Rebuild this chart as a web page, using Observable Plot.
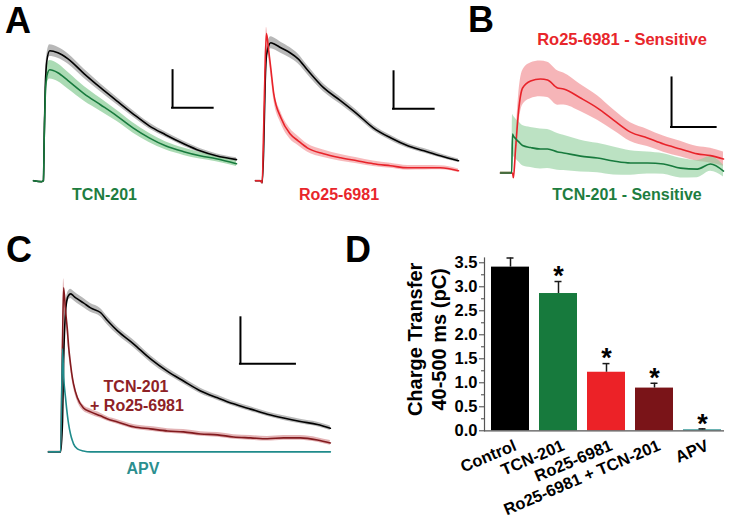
<!DOCTYPE html>
<html><head><meta charset="utf-8">
<script src="https://cdn.jsdelivr.net/npm/d3@7"></script>
<script src="https://cdn.jsdelivr.net/npm/@observablehq/plot@0.6"></script>
<style>
body{margin:0;background:#fff;}
#fig{position:relative;width:734px;height:523px;overflow:hidden;background:#fff;font-family:"Liberation Sans",Arial,sans-serif;}
.panel{position:absolute;}
.panel svg{overflow:visible;}
.lbl{position:absolute;font-weight:bold;white-space:nowrap;line-height:1;}
</style></head>
<body><div id="fig"></div>
<script>
// ---------- Panel A (left): Control vs TCN-201 (time in ms, mean current in pA, SEM) ----------
const tA1 = [0, 40, 49, 53, 58, 66, 80, 120, 170, 250, 330, 410, 490, 570, 650, 740, 820, 900, 1000];
const controlA1 = [0, -0.5, 0, 25, 50, 65, 70.3, 69.2, 65.9, 57.8, 50.3, 43.2, 36.2, 29.7, 24.9, 20, 16.2, 13.5, 11.4];
const controlA1Sem = [0.3, 0.3, 0.3, 2, 3, 3.2, 3.2, 3, 2.8, 2.5, 2.2, 2, 1.8, 1.6, 1.4, 1.3, 1.2, 1.1, 1];
const tcnA1 = [0, -0.5, 0, 24.3, 45.9, 56.8, 60, 58.4, 54.1, 47, 41.1, 35.1, 28.6, 23.2, 18.9, 15.7, 13.5, 11.9, 9.2];
const tcnA1Sem = [0.3, 0.3, 0.3, 3, 4.5, 5, 5, 4.8, 4.5, 4, 3.5, 3, 2.8, 2.5, 2.2, 2, 1.8, 1.6, 1.5];

// ---------- Panel A (right): Control vs Ro25-6981 ----------
const tA2 = [0, 25, 33, 40, 48, 54, 65, 75, 90, 125, 170, 210, 255, 335, 420, 500, 580, 665, 750, 830, 910, 1000];
const controlA2 = [0, 0, -1.1, 16.2, 54.1, 67.6, 73, 74.6, 74.1, 71.9, 69.2, 65.9, 60, 50.3, 43.2, 36.2, 28.6, 23.2, 18.9, 16.2, 13.5, 10.8];
const controlA2Sem = [0.3, 0.3, 0.3, 2, 3, 3.2, 3.2, 3.2, 3.2, 3, 2.8, 2.6, 2.4, 2.2, 2, 1.8, 1.6, 1.4, 1.3, 1.2, 1.1, 1];
const roA2 = [0, 0, -1.1, 27, 64.9, 79.5, 70.3, 61.1, 47, 34.1, 25.4, 21.6, 17.8, 14.6, 12.4, 10.8, 9.2, 8.1, 7, 7, 7, 5.4];
const roA2Sem = [0.3, 0.3, 0.3, 2, 3, 3.5, 3.5, 3.3, 3.2, 3, 2.8, 2.5, 2.2, 2, 1.8, 1.6, 1.5, 1.4, 1.3, 1.2, 1.1, 1];

// ---------- Panel B: sensitive components ----------
const tB = [0, 50, 54, 58, 67, 81, 99, 135, 179, 211, 256, 283, 359, 435, 507, 583, 659, 731, 807, 883, 942, 1000];
const roSensB = [0.4, 0.4, 0.4, -1.5, 9.4, 25.7, 35.1, 38, 38.8, 38.4, 35.1, 34.7, 31, 26.9, 22, 17.1, 14.7, 12.2, 10.2, 8.2, 7.5, 6.1];
const roSensBSem = [0.5, 0.5, 0.5, 0.5, 3, 6, 7, 7.3, 7.3, 7.2, 7, 6.5, 5.5, 5, 4.2, 3.8, 3.5, 3.3, 3.2, 3, 3, 2.9];
const tcnSensB = [0.4, 0.4, 16.3, 15.5, 14.5, 13.2, 11.6, 10.8, 10.2, 10.2, 9, 8.6, 7.3, 6.5, 5.3, 4.5, 4.5, 4.1, 2.4, 2, 4.1, 1.2];
const tcnSensBSem = [0.5, 0.5, 8, 8.2, 8.2, 8.2, 8.2, 8.2, 8.2, 8, 7.5, 7.2, 6.5, 6, 5.7, 5, 4.5, 4.2, 4, 3.5, 3, 2.4];

// ---------- Panel C: Control, TCN-201 + Ro25-6981, APV ----------
const tC = [0, 40, 44, 51, 55, 62, 69, 73, 80, 87, 91, 105, 127, 153, 189, 215, 251, 309, 371, 433, 491, 553, 615, 673, 735, 796, 855, 916, 978, 1025];
const controlC = [0, 0, 0, 13.5, 39.6, 61, 67, 68, 68.7, 68.3, 67.8, 66.5, 64.8, 62.6, 60.6, 57, 52.6, 47, 40.4, 35, 30.8, 26.5, 23.5, 20.9, 18.6, 16.4, 14.7, 13.2, 11.9, 10.3];
const controlCSem = [0.3, 0.3, 0.3, 1.5, 2, 2, 2, 2, 2, 2, 2, 2, 2, 1.9, 1.8, 1.8, 1.7, 1.6, 1.5, 1.4, 1.3, 1.2, 1.1, 1, 1, 1, 1, 1, 1, 1];
const comboC = [0, 0, 0, 48.3, 71.3, 61.3, 52.6, 46.1, 38.3, 32.2, 29.6, 23.5, 19.1, 17.4, 15.7, 14.3, 13, 10.9, 10, 9.1, 8.7, 7.8, 7.4, 6.5, 6.1, 5.7, 6.1, 6.1, 5.2, 3.9];
const comboCSem = [0.3, 0.3, 0.3, 3, 4, 3, 2.5, 2.2, 2, 1.8, 1.7, 1.5, 1.3, 1.2, 1.1, 1, 1, 1, 1, 1, 1, 1, 1, 1, 1, 1, 1, 1, 1, 1];
const apvC = [0, 0, 0, 44.8, 33, 23.5, 15.7, 12.2, 7.8, 4.8, 3.5, 1.3, 0.4, 0, 0, 0, 0, 0, 0, 0, 0, 0, 0, 0, 0, 0, 0, 0, 0, 0];

// scale bars (200 ms, 20 pA) and their anchors in data units
const scaleBarMs = 200, scaleBarPA = 20;
const barA1 = {t: 685, pA: 39.5};
const barA2 = {t: 680, pA: 38.9};
const barB = {t: 767, pA: 19.2};
const barC = {t: 698, pA: 38.3};

// ---------- Panel D: charge transfer 40-500 ms ----------
const categoriesD = ["Control", "TCN-201", "Ro25-6981", "Ro25-6981 + TCN-201", "APV"];
const chargeD = [3.41, 2.86, 1.22, 0.89, 0.02];
const chargeErrD = [0.19, 0.25, 0.18, 0.10, 0.02];
const significantD = [false, true, true, true, true];
const yTicksD = [0, 0.5, 1.0, 1.5, 2.0, 2.5, 3.0, 3.5];
const yMinorTicksD = [0.25, 0.75, 1.25, 1.75, 2.25, 2.75, 3.25];

// colours
const C = {
  black: "#000000", gray: "#9a9a9a",
  green: "#177a3d", greenBand: "#8fcf9b",
  red: "#e8232a", redBand: "#f4a3a6",
  dred: "#821a1e", dredBand: "#d99a9c",
  teal: "#1f8b8b"
};
const colorsD = ["#000000", "#177a3d", "#ec2227", "#7a1418", "#1f8b8b"];

const fig = document.getElementById("fig");
const FONT = '"Liberation Sans", Arial, sans-serif';

function rows(t, m, s) {
  return t.map((ti, i) => ({t: ti, m: m[i], lo: m[i] - (s ? s[i] : 0), hi: m[i] + (s ? s[i] : 0)}));
}

function tracePanel(cfg) {
  const w = cfg.tMax * cfg.pxPerMs;
  const h = (cfg.aMax - cfg.aMin) * cfg.pxPerPA;
  const top = cfg.baseline - cfg.aMax * cfg.pxPerPA;
  const marks = [];
  for (const s of cfg.series) {
    if (s.sem) marks.push(Plot.areaY(rows(cfg.t, s.m, s.sem), {x: "t", y1: "lo", y2: "hi", fill: s.band, fillOpacity: s.op ?? 0.75, curve: "monotone-x"}));
  }
  for (const s of cfg.series) {
    marks.push(Plot.lineY(rows(cfg.t, s.m, null), {x: "t", y: "m", stroke: s.color, strokeWidth: 1.6, curve: "monotone-x"}));
  }
  marks.push(Plot.ruleX([cfg.bar.t], {y1: cfg.bar.pA, y2: cfg.bar.pA + scaleBarPA, stroke: "#000", strokeWidth: 2, strokeLinecap: "square"}));
  marks.push(Plot.ruleY([cfg.bar.pA], {x1: cfg.bar.t, x2: cfg.bar.t + scaleBarMs, stroke: "#000", strokeWidth: 2, strokeLinecap: "square"}));
  const svg = Plot.plot({
    width: w, height: h, margin: 0, axis: null,
    x: {domain: [0, cfg.tMax]}, y: {domain: [cfg.aMin, cfg.aMax]},
    style: {background: "transparent", overflow: "visible"},
    marks
  });
  const div = document.createElement("div");
  div.className = "panel";
  div.style.left = cfg.left + "px";
  div.style.top = top + "px";
  div.appendChild(svg);
  fig.appendChild(div);
}

tracePanel({left: 33, baseline: 180, pxPerMs: 0.203, pxPerPA: 1.85, tMax: 1000, aMin: -5, aMax: 85, t: tA1, bar: barA1,
  series: [
    {m: controlA1, sem: controlA1Sem, color: C.black, band: C.gray, op: 0.7},
    {m: tcnA1, sem: tcnA1Sem, color: C.green, band: C.greenBand}
  ]});
tracePanel({left: 255, baseline: 180, pxPerMs: 0.203, pxPerPA: 1.85, tMax: 1000, aMin: -5, aMax: 85, t: tA2, bar: barA2,
  series: [
    {m: controlA2, sem: controlA2Sem, color: C.black, band: C.gray, op: 0.7},
    {m: roA2, sem: roA2Sem, color: C.red, band: C.redBand}
  ]});
tracePanel({left: 500, baseline: 173, pxPerMs: 0.223, pxPerPA: 2.45, tMax: 1000, aMin: -3, aMax: 50, t: tB, bar: barB,
  series: [
    {m: roSensB, sem: roSensBSem, color: C.red, band: C.redBand, op: 0.8},
    {m: tcnSensB, sem: tcnSensBSem, color: C.green, band: C.greenBand, op: 0.6}
  ]});
tracePanel({left: 48, baseline: 451, pxPerMs: 0.275, pxPerPA: 2.3, tMax: 1025, aMin: -4, aMax: 78, t: tC, bar: barC,
  series: [
    {m: controlC, sem: controlCSem, color: C.black, band: C.gray, op: 0.7},
    {m: comboC, sem: comboCSem, color: C.dred, band: C.dredBand},
    {m: apvC, sem: null, color: C.teal}
  ]});

// ---------- Panel D ----------
const dData = categoriesD.map((c, i) => ({cat: c, v: chargeD[i], e: chargeErrD[i], sig: significantD[i]}));
const svgD = Plot.plot({
  width: 354, height: 273, marginLeft: 104, marginRight: 10, marginTop: 7.5, marginBottom: 92.7,
  x: {domain: categoriesD, range: [109, 343], paddingInner: 0.2, paddingOuter: 0},
  y: {domain: [0, 3.6]},
  color: {domain: categoriesD, range: colorsD},
  style: {fontFamily: FONT, background: "transparent", overflow: "visible", color: "#000"},
  marks: [
    Plot.barY(dData, {x: "cat", y: "v", fill: "cat"}),
    Plot.ruleX(dData, {x: "cat", y1: "v", y2: d => d.v + d.e, stroke: "#1a1a1a", strokeWidth: 1.5}),
    Plot.tickY(dData, {x: "cat", y: d => d.v + d.e, stroke: "#1a1a1a", strokeWidth: 1.5, insetLeft: 15.5, insetRight: 15.5}),
    Plot.text(dData.filter(d => d.sig), {x: "cat", y: d => d.v + d.e, text: d => "*", dy: -5, fontSize: 27, fontWeight: "bold", fill: "#000"}),
    Plot.axisY({ticks: yTicksD, tickSize: 5, tickPadding: 2, tickFormat: d3.format(".1f"), fontSize: 16.5, fontWeight: "bold", label: null, stroke: "#444"}),
    Plot.axisY({ticks: yMinorTicksD, tickSize: 3, tickFormat: () => "", label: null, stroke: "#444"}),
    Plot.axisX({tickSize: 0, tickPadding: 8, tickRotate: -23, dx: 5, dy: 6, fontSize: 16.5, fontWeight: "bold", label: null}),
    Plot.ruleY([0], {stroke: "#555", strokeWidth: 1.2}),
    Plot.frame({anchor: "left", stroke: "#555", strokeWidth: 1.2}),
    Plot.text(["Charge Transfer\n40-500 ms (pC)"], {frameAnchor: "left", textAnchor: "middle", lineAnchor: "middle", rotate: -90, dx: -58, dy: -5, fontSize: 20, fontWeight: "bold", lineHeight: 1.2, fill: "#000"})
  ]
});
const divD = document.createElement("div");
divD.className = "panel";
divD.style.left = "380px";
divD.style.top = "250px";
divD.appendChild(svgD);
fig.appendChild(divD);

// ---------- text labels ----------
function label(text, x, baseline, fs, color, align) {
  const d = document.createElement("div");
  d.className = "lbl";
  d.textContent = text;
  d.style.fontSize = fs + "px";
  d.style.color = color;
  d.style.top = (baseline - 0.8465 * fs) + "px";
  d.style.left = x + "px";
  if (align === "center") d.style.transform = "translateX(-50%)";
  fig.appendChild(d);
}
label("A", 5, 33, 36, "#000", "left");
label("B", 468, 32, 36, "#000", "left");
label("C", 6, 262, 36, "#000", "left");
label("D", 345, 262, 36, "#000", "left");
label("TCN-201", 104.5, 201, 16, "#1e7d3f", "center");
label("Ro25-6981", 339, 201, 16, "#e8262b", "center");
label("Ro25-6981 - Sensitive", 622, 45, 16.5, "#e8262b", "center");
label("TCN-201 - Sensitive", 627, 201, 16, "#1e7d3f", "center");
label("TCN-201", 136, 393, 16, "#8e2226", "center");
label("+ Ro25-6981", 137, 412, 16, "#8e2226", "center");
label("APV", 143, 475, 16, "#2b8f8f", "center");
</script></body></html>
